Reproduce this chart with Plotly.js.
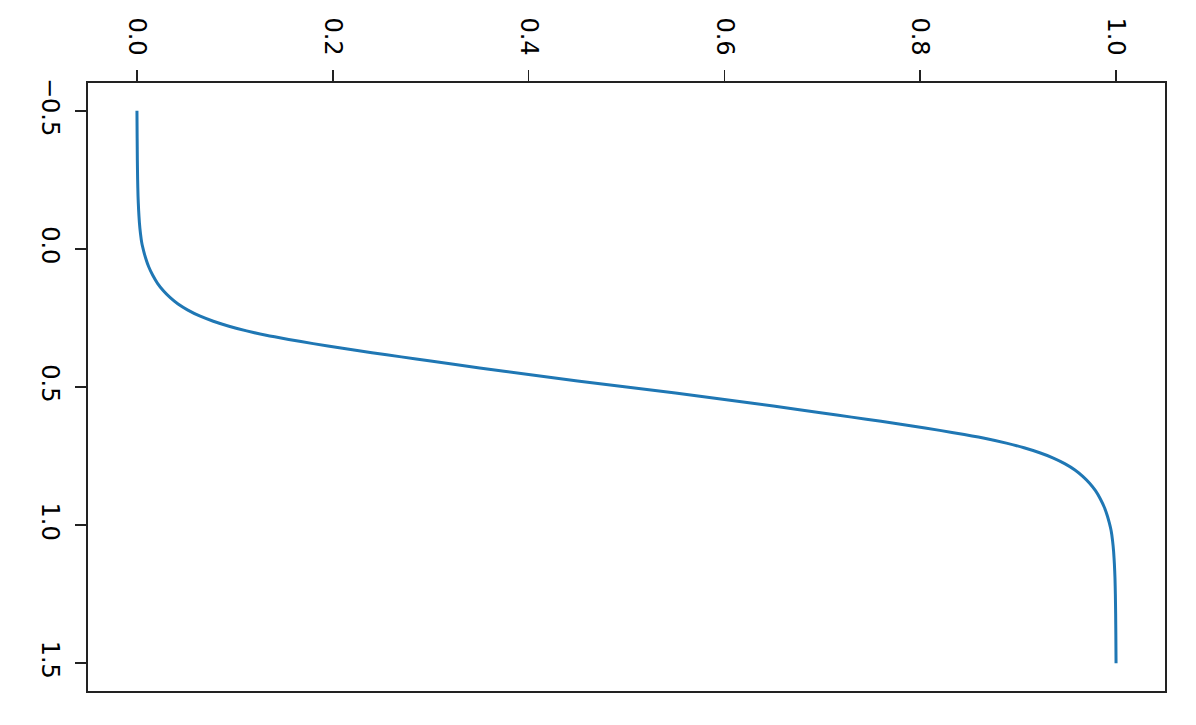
<!DOCTYPE html>
<html>
<head>
<meta charset="utf-8">
<script src="https://cdn.plot.ly/plotly-3.0.1.min.js"></script>
<style>html,body{margin:0;padding:0;background:#fff;}#chart{width:1196px;height:725px;}</style>
</head>
<body>
<div id="chart"></div>
<script>
// Curve values (horizontal value, vertical value)
const curveX = [0, 0.0002, 0.0004, 0.0007, 0.0011, 0.0017, 0.0025, 0.0036, 0.005, 0.007, 0.009, 0.012, 0.016, 0.021, 0.027, 0.034, 0.042, 0.052, 0.064, 0.078, 0.094, 0.112, 0.132, 0.155, 0.18, 0.21, 0.24, 0.27, 0.3, 0.35, 0.4, 0.45, 0.5,
  0.55, 0.6, 0.65, 0.7, 0.73, 0.76, 0.79, 0.82, 0.845, 0.868, 0.888, 0.906, 0.922, 0.936, 0.948, 0.958, 0.966, 0.973, 0.979, 0.984, 0.988, 0.991, 0.993, 0.995, 0.9964, 0.9975, 0.9983, 0.9989, 0.9993, 0.9996, 0.9998, 1];
const curveY = [-0.5, -0.4, -0.32, -0.25, -0.19, -0.14, -0.095, -0.055, -0.02, 0.01, 0.035, 0.065, 0.095, 0.125, 0.152, 0.177, 0.2, 0.222, 0.243, 0.262, 0.28, 0.297, 0.313, 0.328, 0.343, 0.36, 0.376, 0.391, 0.406, 0.431, 0.455, 0.478, 0.5,
  0.522, 0.545, 0.569, 0.594, 0.609, 0.624, 0.64, 0.657, 0.672, 0.687, 0.703, 0.72, 0.738, 0.757, 0.778, 0.8, 0.823, 0.848, 0.875, 0.905, 0.935, 0.965, 0.99, 1.02, 1.055, 1.095, 1.14, 1.19, 1.25, 1.32, 1.4, 1.5];
const xTickVals = [0, 0.2, 0.4, 0.6, 0.8, 1.0];
const xTickText = ['0.0', '0.2', '0.4', '0.6', '0.8', '1.0'];
const yTickVals = [-0.5, 0, 0.5, 1.0, 1.5];
const yTickText = ['\u22120.5', '0.0', '0.5', '1.0', '1.5'];

const trace = {
  x: curveX, y: curveY, type: 'scatter', mode: 'lines',
  line: {color: '#1f77b4', width: 3, shape: 'spline', smoothing: 0.5}, hoverinfo: 'skip'
};
const axisFont = {family: 'DejaVu Sans', size: 24, color: '#000'};
const layout = {
  width: 1196, height: 725,
  margin: {l: 88, r: 31, t: 83, b: 34, pad: 0},
  paper_bgcolor: '#fff', plot_bgcolor: '#fff',
  showlegend: false,
  xaxis: {
    side: 'top', range: [-0.05, 1.05], tickmode: 'array', tickvals: xTickVals, ticktext: xTickText,
    tickangle: 90, ticks: 'outside', ticklen: 11, tickwidth: 1.8, tickcolor: '#222',
    showline: true, linecolor: '#222', linewidth: 2, mirror: true,
    showgrid: false, zeroline: false, tickfont: axisFont, ticklabelstandoff: 6
  },
  yaxis: {
    range: [1.6, -0.6], tickmode: 'array', tickvals: yTickVals, ticktext: yTickText,
    tickangle: 90, ticks: 'outside', ticklen: 11, tickwidth: 1.8, tickcolor: '#222',
    showline: true, linecolor: '#222', linewidth: 2, mirror: true,
    showgrid: false, zeroline: false, tickfont: axisFont, ticklabelstandoff: 4
  }
};
Plotly.newPlot('chart', [trace], layout, {staticPlot: true, displayModeBar: false});
</script>
</body>
</html>
